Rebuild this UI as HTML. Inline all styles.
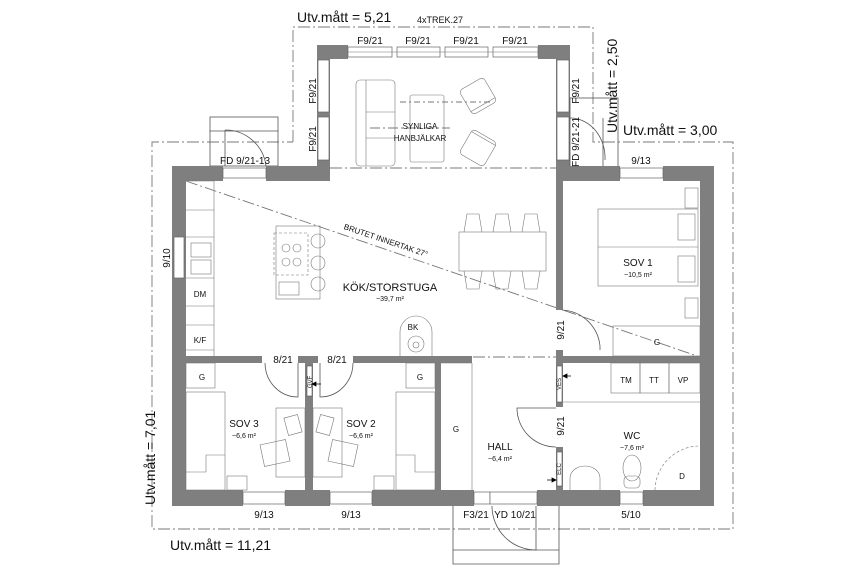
<!DOCTYPE html>
<html><head><meta charset="utf-8"><style>
html,body{margin:0;padding:0;background:#fff;}
svg{display:block;}
text{font-family:"Liberation Sans",sans-serif;fill:#111;}
.w{fill:#7f7f7f;}
.l{fill:none;stroke:#555;stroke-width:0.8;}
.t{fill:none;stroke:#777;stroke-width:0.6;}
.d{fill:none;stroke:#777;stroke-width:0.9;stroke-dasharray:12 3 2 3;}
.win{fill:#fff;stroke:#666;stroke-width:0.7;}
</style></head><body>
<svg width="864" height="576" viewBox="0 0 864 576" xmlns="http://www.w3.org/2000/svg">
<path class="d" d="M293 142 L293 27 L593 27 L593 142 L733 142 L733 529 L152 529 L152 142 L293 142"/>
<path class="d" d="M330 168 L556 168"/>
<path class="d" d="M186 181 L700 357"/>
<path class="d" d="M473 357 L556 357"/>
<path class="d" d="M370 128 L450 128" style="stroke-dasharray:10 3 2 3"/>
<path class="d" d="M400 102 L490 102" style="stroke-dasharray:6 3 2 3"/>

<rect class="l" x="210" y="117" width="68" height="49"/>
<line class="l" x1="210" y1="131" x2="278" y2="131"/>
<path class="l" d="M225 130 A41 41 0 0 1 266 166"/>
<line class="l" x1="225" y1="130" x2="225" y2="166"/>

<rect class="w" x="317" y="45" width="31" height="14"/>
<rect class="w" x="538" y="45" width="32" height="14"/>
<rect class="w" x="317" y="45" width="13" height="135"/>
<rect class="w" x="556" y="45" width="14" height="135"/>
<rect class="win" x="348" y="47" width="44" height="10"/>
<rect class="win" x="397" y="47" width="43" height="10"/>
<rect class="win" x="445" y="47" width="43" height="10"/>
<rect class="win" x="493" y="47" width="45" height="10"/>
<line class="t" x1="348" y1="52" x2="538" y2="52"/>
<rect class="win" x="318" y="60" width="11" height="52"/>
<rect class="win" x="318" y="117" width="11" height="43"/>
<rect class="win" x="557" y="60" width="12" height="52"/>
<rect class="win" x="557" y="117" width="12" height="43"/>
<rect class="l" x="570" y="98" width="48" height="69"/>
<line class="l" x1="603" y1="118" x2="603" y2="167"/>
<path class="l" d="M570 118 A35 40 0 0 1 605 160"/>

<rect class="w" x="172" y="166" width="51" height="15"/>
<rect class="w" x="266" y="166" width="64" height="15"/>
<rect class="win" x="223" y="168" width="43" height="10"/>
<rect class="w" x="556" y="166" width="64" height="15"/>
<rect class="w" x="663" y="166" width="51" height="15"/>
<rect class="win" x="620" y="168" width="43" height="10"/>
<rect class="w" x="172" y="166" width="14" height="340"/>
<rect class="w" x="700" y="166" width="14" height="340"/>
<rect class="win" x="174" y="237" width="10" height="41"/>
<rect class="w" x="172" y="490" width="71" height="16"/>
<rect class="w" x="285" y="490" width="45" height="16"/>
<rect class="w" x="372" y="490" width="102" height="16"/>
<rect class="w" x="537" y="490" width="83" height="16"/>
<rect class="w" x="643" y="490" width="71" height="16"/>
<rect class="win" x="243" y="492" width="42" height="12"/>
<rect class="win" x="330" y="492" width="42" height="12"/>
<rect class="win" x="474" y="492" width="16" height="12"/>
<rect class="win" x="490" y="492" width="47" height="12"/>
<rect class="win" x="620" y="492" width="23" height="12"/>
<rect class="w" x="186" y="356" width="76" height="7"/>
<rect class="w" x="298" y="356" width="20" height="7"/>
<rect class="w" x="353" y="356" width="119" height="7"/>
<rect class="w" x="556" y="181" width="7" height="129"/>
<rect class="w" x="556" y="350" width="7" height="57"/>
<rect class="w" x="556" y="447" width="7" height="43"/>
<rect class="w" x="563" y="356" width="137" height="7"/>
<rect class="w" x="305" y="363" width="8" height="127"/>
<rect class="w" x="435" y="363" width="6" height="127"/>
<rect fill="#fff" stroke="#555" stroke-width="0.6" x="307" y="366" width="5" height="30"/>
<rect fill="#fff" stroke="#555" stroke-width="0.6" x="557" y="366" width="5" height="36"/>
<rect fill="#fff" stroke="#555" stroke-width="0.6" x="557" y="452" width="5" height="34"/>
<path class="l" d="M265 363 A33 34 0 0 0 298 397 L298 363"/>
<path class="l" d="M353 363 A33 34 0 0 1 320 397 L320 363"/>
<path class="l" d="M562 310 A40 40 0 0 1 600 346 L600 350"/>
<path class="l" d="M556 408 L517 408 A39 39 0 0 0 556 447"/>
<path class="l" d="M492 506 A44 44 0 0 0 536 550 L536 506"/>
<path class="l" d="M453 506 L453 564 L559 564 L559 506"/>
<line class="l" x1="453" y1="550" x2="559" y2="550"/>

<path class="t" d="M186 181 L214 181 L214 356 M186 210 L214 210 M186 237 L214 237 M186 278 L214 278 M186 306 L214 306 M186 325 L214 325 M186 350 L214 350"/>
<rect class="t" x="191" y="243" width="20" height="14"/><rect class="t" x="191" y="260" width="20" height="14"/>
<rect class="t" x="276" y="226" width="44" height="73"/>
<rect class="t" x="274" y="233" width="34" height="42" stroke-dasharray="3 2"/>
<circle class="t" cx="286" cy="248" r="4"/><circle class="t" cx="297" cy="248" r="4"/>
<circle class="t" cx="286" cy="262" r="4"/><circle class="t" cx="297" cy="262" r="4"/>
<rect class="t" x="279" y="282" width="20" height="13"/>
<circle class="t" cx="318" cy="241" r="7"/><circle class="t" cx="318" cy="263" r="7"/><circle class="t" cx="318" cy="284" r="7"/>
<rect class="t" x="459" y="232" width="87" height="39"/>
<path class="t" d="M464 232 L467 214 L479 214 L482 232 M493 232 L496 214 L508 214 L511 232 M522 232 L525 214 L537 214 L540 232"/>
<path class="t" d="M464 271 L467 289 L479 289 L482 271 M493 271 L496 289 L508 289 L511 271 M522 271 L525 289 L537 289 L540 271"/>
<path class="t" d="M400 356 L400 332 A16 16 0 0 1 432 332 L432 356"/>
<circle class="t" cx="416" cy="344" r="8"/><circle class="t" cx="416" cy="345" r="3"/>
<rect class="t" x="356" y="80" width="39" height="86" rx="4"/>
<line class="t" x1="366" y1="80" x2="366" y2="166"/>
<line class="t" x1="366" y1="112" x2="395" y2="112"/><line class="t" x1="366" y1="138" x2="395" y2="138"/>
<rect class="t" x="410" y="95" width="34" height="67" rx="2"/>
<g transform="rotate(-30 478 96)"><rect class="t" x="464" y="82" width="28" height="28" rx="4"/><line class="t" x1="464" y1="106" x2="492" y2="106"/></g>
<g transform="rotate(30 478 148)"><rect class="t" x="464" y="134" width="28" height="28" rx="4"/><line class="t" x1="464" y1="137" x2="492" y2="137"/></g>
<rect class="t" x="598" y="209" width="100" height="77"/>
<line class="t" x1="598" y1="247" x2="698" y2="247"/>
<rect class="t" x="685" y="188" width="13" height="20"/><rect class="t" x="685" y="298" width="13" height="20"/>
<rect class="t" x="678" y="214" width="17" height="26"/><rect class="t" x="678" y="256" width="17" height="26"/>
<rect class="t" x="613" y="326" width="87" height="30"/>
<rect class="t" x="186" y="363" width="29" height="25"/>
<rect class="t" x="186" y="392" width="39" height="98"/>
<path class="t" d="M186 472 L206 472 L206 455 L225 455"/>
<rect class="t" x="276" y="408" width="29" height="69"/>
<rect class="t" x="286" y="416" width="14" height="18" transform="rotate(-15 293 425)"/>
<rect class="t" x="262" y="442" width="26" height="22" transform="rotate(-12 275 453)"/>
<rect class="t" x="227" y="476" width="20" height="14"/>
<rect class="t" x="406" y="363" width="29" height="25"/>
<rect class="t" x="396" y="392" width="39" height="98"/>
<path class="t" d="M435 472 L415 472 L415 455 L396 455"/>
<rect class="t" x="313" y="408" width="29" height="69"/>
<rect class="t" x="318" y="416" width="14" height="18" transform="rotate(15 325 425)"/>
<rect class="t" x="330" y="442" width="26" height="22" transform="rotate(12 343 453)"/>
<rect class="t" x="374" y="476" width="20" height="14"/>
<line class="t" x1="441" y1="363" x2="472" y2="363"/>
<line class="t" x1="472" y1="363" x2="472" y2="490"/>
<rect class="t" x="611" y="363" width="29" height="30"/><rect class="t" x="640" y="363" width="29" height="30"/><rect class="t" x="669" y="363" width="31" height="30"/>
<line class="t" x1="563" y1="402" x2="700" y2="402"/>
<path class="t" d="M570 490 L570 478 A15 12 0 0 1 600 478 L600 490"/>
<ellipse class="t" cx="632" cy="468" rx="9" ry="13"/><rect class="t" x="624" y="476" width="16" height="12" rx="4"/>
<path class="t" d="M655 490 A45 45 0 0 1 698 446" stroke-dasharray="3 2"/>

<text x="297" y="22" font-size="14">Utv.mått = 5,21</text>
<text x="417" y="23" font-size="9">4xTREK.27</text>
<g font-size="10" text-anchor="middle">
<text x="370" y="44">F9/21</text><text x="418" y="44">F9/21</text><text x="466" y="44">F9/21</text><text x="515" y="44">F9/21</text>
<text x="245" y="164">FD 9/21-13</text>
<text x="641" y="164">9/13</text>
<text transform="translate(316 91) rotate(-90)">F9/21</text>
<text transform="translate(316 139) rotate(-90)">F9/21</text>
<text transform="translate(579 91) rotate(-90)">F9/21</text>
<text transform="translate(579 142) rotate(-90)">FD 9/21-21</text>
<text transform="translate(170 258) rotate(-90)">9/10</text>
<text transform="translate(564 330) rotate(-90)">9/21</text>
<text transform="translate(564 426) rotate(-90)">9/21</text>
<text x="283" y="363">8/21</text><text x="337" y="363">8/21</text>
<text x="264" y="518">9/13</text><text x="351" y="518">9/13</text>
<text x="476" y="518">F3/21</text><text x="515" y="518">YD 10/21</text><text x="631" y="518">5/10</text>
</g>
<g font-size="8" text-anchor="middle">
<text x="420" y="129">SYNLIGA</text><text x="420" y="141">HANBJÄLKAR</text>
<text transform="translate(385 243) rotate(18.7)">BRUTET INNERTAK 27°</text>
<text x="200" y="297">DM</text><text x="200" y="343">K/F</text>
<text x="413" y="330">BK</text>
<text x="657" y="345">G</text>
<text x="202" y="380">G</text><text x="420" y="380">G</text>
<text x="456" y="432">G</text>
<text x="626" y="383">TM</text><text x="654" y="383">TT</text><text x="683" y="383">VP</text>
<text x="682" y="479">D</text>
<text transform="translate(312 382) rotate(-90)" font-size="6">GVF</text>
<text transform="translate(561 384) rotate(-90)" font-size="6">VES</text>
<text transform="translate(561 469) rotate(-90)" font-size="6">ELC</text>
</g>
<g text-anchor="middle">
<text x="390" y="291" font-size="11">KÖK/STORSTUGA</text><text x="390" y="301" font-size="7">~39,7 m²</text>
<text x="638" y="266" font-size="10">SOV 1</text><text x="638" y="277" font-size="7">~10,5 m²</text>
<text x="244" y="427" font-size="10">SOV 3</text><text x="244" y="438" font-size="7">~6,6 m²</text>
<text x="361" y="427" font-size="10">SOV 2</text><text x="361" y="438" font-size="7">~6,6 m²</text>
<text x="500" y="450" font-size="10">HALL</text><text x="500" y="461" font-size="7">~6,4 m²</text>
<text x="632" y="439" font-size="10">WC</text><text x="632" y="450" font-size="7">~7,6 m²</text>
</g>
<text x="623" y="135" font-size="14">Utv.mått = 3,00</text>
<text transform="translate(617 133) rotate(-90)" font-size="14">Utv.mått = 2,50</text>
<text transform="translate(155 505) rotate(-90)" font-size="14">Utv.mått = 7,01</text>
<text x="170" y="550" font-size="14">Utv.mått = 11,21</text>
<path d="M312 384 l4 -2 v4 z M321 384 h-6" stroke="#000" stroke-width="0.8"/>
<path d="M563 376 l4 -2 v4 z M571 376 h-6" stroke="#000" stroke-width="0.8"/>
<path d="M556 480 l-4 -2 v4 z M547 480 h6" stroke="#000" stroke-width="0.8"/>
</svg>
</body></html>
